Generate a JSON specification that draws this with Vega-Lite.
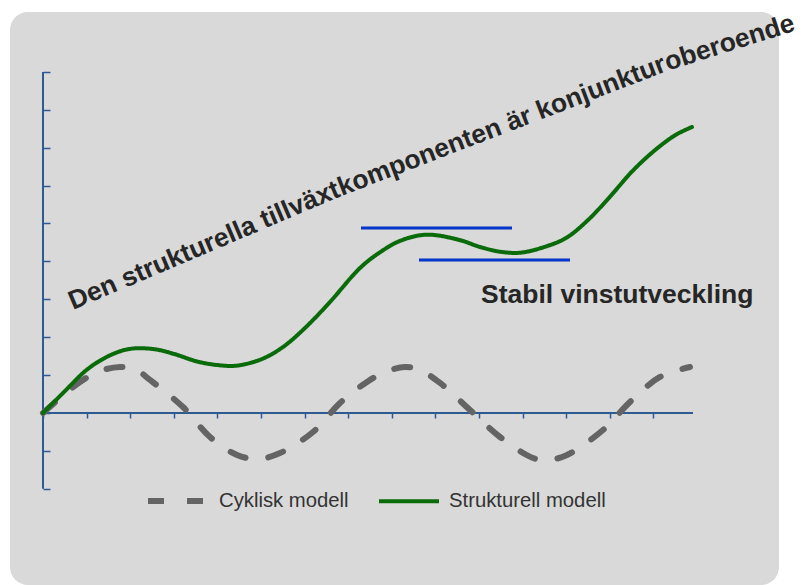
{
  "$schema": "https://vega.github.io/schema/vega-lite/v6.json",
  "width": 769,
  "height": 573,
  "autosize": {"type": "none"},
  "padding": {"left": 10, "top": 12, "right": 25, "bottom": 0},
  "background": "white",
  "config": {
    "view": {"fill": "#d9d9d9", "stroke": null, "cornerRadius": 18},
    "font": "Liberation Sans"
  },
  "layer": [
    {
      "data": {"values": [
        {"x": 0, "y": -2, "x2": 0, "y2": 9},
        {"x": 0, "y": 0, "x2": 14.908, "y2": 0}
      ]},
      "mark": {"type": "rule", "color": "#2e5a94", "strokeWidth": 2},
      "encoding": {
        "x": {"field": "x", "type": "quantitative",
          "scale": {"domain": [-0.7569, 16.881], "nice": false, "zero": false},
          "axis": {"orient": "bottom", "offset": -172, "values": [0,1,2,3,4,5,6,7,8,9,10,11,12,13,14],
            "domain": false, "labels": false, "title": null, "grid": false,
            "tickSize": 5, "tickColor": "#2e5a94", "tickWidth": 1.5}},
        "y": {"field": "y", "type": "quantitative",
          "scale": {"domain": [-4.538, 10.58], "nice": false, "zero": false},
          "axis": {"orient": "left", "offset": -33, "values": [-2,-1,0,1,2,3,4,5,6,7,8,9],
            "domain": false, "labels": false, "title": null, "grid": false,
            "tickSize": -7, "tickColor": "#2e5a94", "tickWidth": 1.5}},
        "x2": {"field": "x2"},
        "y2": {"field": "y2"}
      }
    },
    {
      "data": {"values": [
        {"x": 7.294, "x2": 10.757, "y": 4.881},
        {"x": 8.624, "x2": 12.087, "y": 4.037}
      ]},
      "mark": {"type": "rule", "color": "#0435cc", "strokeWidth": 3},
      "encoding": {
        "x": {"field": "x", "type": "quantitative"},
        "x2": {"field": "x2"},
        "y": {"field": "y", "type": "quantitative"}
      }
    },
    {
      "data": {"values": [
        {"s": "Cyklisk modell", "x": 0, "y": 0},
        {"s": "Cyklisk modell", "x": 0.849, "y": 0.818},
        {"s": "Cyklisk modell", "x": 1.307, "y": 1.108},
        {"s": "Cyklisk modell", "x": 1.766, "y": 1.214},
        {"s": "Cyklisk modell", "x": 2.110, "y": 1.161},
        {"s": "Cyklisk modell", "x": 2.454, "y": 0.871},
        {"s": "Cyklisk modell", "x": 3.211, "y": 0.158},
        {"s": "Cyklisk modell", "x": 3.830, "y": -0.633},
        {"s": "Cyklisk modell", "x": 4.450, "y": -1.108},
        {"s": "Cyklisk modell", "x": 4.931, "y": -1.214},
        {"s": "Cyklisk modell", "x": 5.436, "y": -1.055},
        {"s": "Cyklisk modell", "x": 6.193, "y": -0.501},
        {"s": "Cyklisk modell", "x": 6.812, "y": 0.264},
        {"s": "Cyklisk modell", "x": 7.431, "y": 0.818},
        {"s": "Cyklisk modell", "x": 7.844, "y": 1.082},
        {"s": "Cyklisk modell", "x": 8.303, "y": 1.214},
        {"s": "Cyklisk modell", "x": 8.647, "y": 1.135},
        {"s": "Cyklisk modell", "x": 9.106, "y": 0.792},
        {"s": "Cyklisk modell", "x": 9.794, "y": 0.079},
        {"s": "Cyklisk modell", "x": 10.482, "y": -0.633},
        {"s": "Cyklisk modell", "x": 11.239, "y": -1.187},
        {"s": "Cyklisk modell", "x": 11.583, "y": -1.240},
        {"s": "Cyklisk modell", "x": 12.018, "y": -1.108},
        {"s": "Cyklisk modell", "x": 12.844, "y": -0.449},
        {"s": "Cyklisk modell", "x": 13.463, "y": 0.290},
        {"s": "Cyklisk modell", "x": 14.151, "y": 0.950},
        {"s": "Cyklisk modell", "x": 14.839, "y": 1.214},
        {"s": "Strukturell modell", "x": 0, "y": 0},
        {"s": "Strukturell modell", "x": 0.459, "y": 0.528},
        {"s": "Strukturell modell", "x": 1.055, "y": 1.187},
        {"s": "Strukturell modell", "x": 1.606, "y": 1.557},
        {"s": "Strukturell modell", "x": 2.05, "y": 1.70},
        {"s": "Strukturell modell", "x": 2.569, "y": 1.680},
        {"s": "Strukturell modell", "x": 3.005, "y": 1.557},
        {"s": "Strukturell modell", "x": 3.532, "y": 1.360},
        {"s": "Strukturell modell", "x": 3.991, "y": 1.266},
        {"s": "Strukturell modell", "x": 4.450, "y": 1.250},
        {"s": "Strukturell modell", "x": 5.023, "y": 1.425},
        {"s": "Strukturell modell", "x": 5.505, "y": 1.741},
        {"s": "Strukturell modell", "x": 6.009, "y": 2.243},
        {"s": "Strukturell modell", "x": 6.583, "y": 2.929},
        {"s": "Strukturell modell", "x": 7.271, "y": 3.826},
        {"s": "Strukturell modell", "x": 7.729, "y": 4.240},
        {"s": "Strukturell modell", "x": 8.188, "y": 4.540},
        {"s": "Strukturell modell", "x": 8.800, "y": 4.705},
        {"s": "Strukturell modell", "x": 9.564, "y": 4.560},
        {"s": "Strukturell modell", "x": 10.023, "y": 4.380},
        {"s": "Strukturell modell", "x": 10.482, "y": 4.255},
        {"s": "Strukturell modell", "x": 10.950, "y": 4.230},
        {"s": "Strukturell modell", "x": 11.500, "y": 4.380},
        {"s": "Strukturell modell", "x": 12.000, "y": 4.620},
        {"s": "Strukturell modell", "x": 12.500, "y": 5.090},
        {"s": "Strukturell modell", "x": 13.000, "y": 5.700},
        {"s": "Strukturell modell", "x": 13.500, "y": 6.360},
        {"s": "Strukturell modell", "x": 14.000, "y": 6.900},
        {"s": "Strukturell modell", "x": 14.500, "y": 7.330},
        {"s": "Strukturell modell", "x": 14.885, "y": 7.546}
      ]},
      "mark": {"type": "line", "interpolate": "catmull-rom", "strokeCap": "round", "strokeJoin": "round"},
      "encoding": {
        "x": {"field": "x", "type": "quantitative"},
        "y": {"field": "y", "type": "quantitative"},
        "order": {"field": "x", "type": "quantitative"},
        "color": {"field": "s", "type": "nominal",
          "scale": {"domain": ["Cyklisk modell", "Strukturell modell"], "range": ["#646464", "#0a6b0a"]},
          "legend": {"title": null, "orient": "none", "legendX": 135, "legendY": 456,
            "direction": "horizontal", "symbolType": "stroke", "symbolSize": 3600,
            "labelFontSize": 20.3, "labelColor": "#333333", "labelOffset": 8,
            "columnPadding": 22, "padding": 0, "labelLimit": 400,
            "labelFont": "Liberation Sans"}},
        "strokeDash": {"field": "s", "type": "nominal",
          "scale": {"domain": ["Cyklisk modell", "Strukturell modell"], "range": [[16, 23], [1, 0]]}},
        "strokeWidth": {"field": "s", "type": "nominal",
          "scale": {"domain": ["Cyklisk modell", "Strukturell modell"], "range": [6, 4]}}
      }
    },
    {
      "data": {"values": [{"t": "Den strukturella tillväxt", "x": 0.688, "y": 2.718}]},
      "mark": {"type": "text", "align": "left", "baseline": "alphabetic", "angle": 337,
        "fontSize": 26.4, "fontWeight": "bold", "color": "#262626", "font": "Liberation Sans"},
      "encoding": {"x": {"field": "x", "type": "quantitative"}, "y": {"field": "y", "type": "quantitative"}, "text": {"field": "t"}}
    },
    {
      "data": {"values": [{"t": "komponenten är konjunktur", "x": 6.853, "y": 5.728}]},
      "mark": {"type": "text", "align": "left", "baseline": "alphabetic", "angle": 339,
        "fontSize": 26.4, "fontWeight": "bold", "color": "#262626", "font": "Liberation Sans"},
      "encoding": {"x": {"field": "x", "type": "quantitative"}, "y": {"field": "y", "type": "quantitative"}, "text": {"field": "t"}}
    },
    {
      "data": {"values": [{"t": "oberoende", "x": 14.328, "y": 9.029}]},
      "mark": {"type": "text", "align": "left", "baseline": "alphabetic", "angle": 342.5,
        "fontSize": 26.4, "fontWeight": "bold", "color": "#262626", "font": "Liberation Sans"},
      "encoding": {"x": {"field": "x", "type": "quantitative"}, "y": {"field": "y", "type": "quantitative"}, "text": {"field": "t"}}
    },
    {
      "data": {"values": [{"t": "Stabil vinstutveckling", "x": 10.046, "y": 2.902}]},
      "mark": {"type": "text", "align": "left", "baseline": "alphabetic",
        "fontSize": 26.5, "fontWeight": "bold", "color": "#262626", "font": "Liberation Sans"},
      "encoding": {"x": {"field": "x", "type": "quantitative"}, "y": {"field": "y", "type": "quantitative"}, "text": {"field": "t"}}
    }
  ]
}
